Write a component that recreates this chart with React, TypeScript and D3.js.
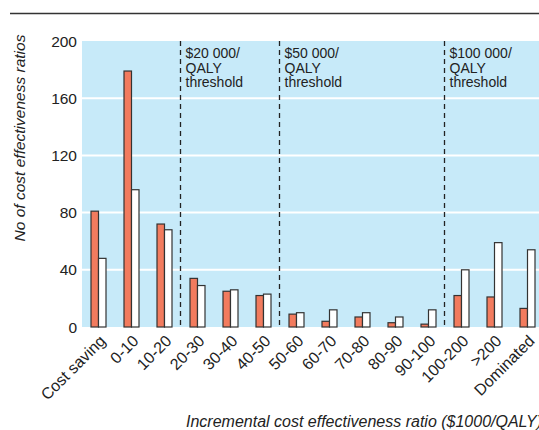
import React, { useRef, useEffect } from 'react'
import * as d3 from 'd3'

// categories along the x axis
const categories = [
  'Cost saving', '0-10', '10-20', '20-30', '30-40', '40-50', '50-60',
  '60-70', '70-80', '80-90', '90-100', '100-200', '>200', 'Dominated',
]
// two series
const redValues = [81, 179, 72, 34, 25, 22, 9, 4, 7, 3, 2, 22, 21, 13]
const whiteValues = [48, 96, 68, 29, 26, 23, 10, 12, 10, 7, 12, 40, 59, 54]
const yTicks = [0, 40, 80, 120, 160, 200]
// threshold lines sit between these categories (index of the category after the line)
const thresholdAt = [3, 6, 11]
const thresholdLabels = [
  ['$20 000/', 'QALY', 'threshold'],
  ['$50 000/', 'QALY', 'threshold'],
  ['$100 000/', 'QALY', 'threshold'],
]

const W = 539
const H = 430
const FONT = '"Liberation Sans", Arial, Helvetica, sans-serif'

function Chart() {
  const svgRef = useRef(null)

  useEffect(() => {
    const svg = d3.select(svgRef.current)
    svg.selectAll('*').remove()

    const m = { left: 82, top: 41, bottom: 327 }
    const bandW = 33
    const x = d3
      .scaleBand()
      .domain(categories)
      .range([m.left, m.left + bandW * categories.length])
    const y = d3.scaleLinear().domain([0, 200]).range([m.bottom, m.top])

    //top rule
    svg
      .append('line')
      .attr('x1', 10)
      .attr('x2', W)
      .attr('y1', 13.5)
      .attr('y2', 13.5)
      .attr('stroke', '#333')
      .attr('stroke-width', 1.5)

    //plot background
    svg
      .append('rect')
      .attr('x', m.left)
      .attr('y', m.top)
      .attr('width', W - m.left)
      .attr('height', m.bottom - m.top)
      .attr('fill', '#c7eaf9')

    //gridlines
    svg
      .append('g')
      .selectAll('line')
      .data(yTicks.filter((t) => t > 0 && t < 200))
      .join('line')
      .attr('x1', m.left)
      .attr('x2', W)
      .attr('y1', (d) => y(d))
      .attr('y2', (d) => y(d))
      .attr('stroke', '#fff')
      .attr('stroke-width', 2)

    //y tick labels
    svg
      .append('g')
      .selectAll('text')
      .data(yTicks)
      .join('text')
      .attr('x', 77)
      .attr('y', (d) => y(d) + 5.5)
      .attr('text-anchor', 'end')
      .style('font-family', FONT)
      .style('font-size', '15.5px')
      .attr('fill', '#222')
      .text((d) => d)

    //threshold lines + labels
    thresholdAt.forEach((idx, i) => {
      const xl = Math.round(x(categories[idx])!) - 1 + 0.5
      svg
        .append('line')
        .attr('x1', xl)
        .attr('x2', xl)
        .attr('y1', m.top)
        .attr('y2', m.bottom)
        .attr('stroke', '#222')
        .attr('stroke-width', 1.3)
        .attr('stroke-dasharray', '5,4')
      const t = svg
        .append('text')
        .attr('x', xl + 5)
        .attr('y', 58)
        .style('font-family', FONT)
        .style('font-size', '14px')
        .attr('fill', '#222')
      thresholdLabels[i].forEach((s, j) => {
        t.append('tspan')
          .attr('x', xl + 5)
          .attr('dy', j === 0 ? 0 : 14.5)
          .text(s)
      })
    })

    //bars
    const bw = 7.5
    const g = svg.append('g')
    categories.forEach((c, i) => {
      const cx = x(c)! + bandW / 2
      g.append('rect')
        .attr('x', cx - bw)
        .attr('y', y(redValues[i]))
        .attr('width', bw)
        .attr('height', y(0) - y(redValues[i]))
        .attr('fill', '#f27b5e')
        .attr('stroke', '#333')
        .attr('stroke-width', 1.2)
      g.append('rect')
        .attr('x', cx)
        .attr('y', y(whiteValues[i]))
        .attr('width', bw)
        .attr('height', y(0) - y(whiteValues[i]))
        .attr('fill', '#fff')
        .attr('stroke', '#333')
        .attr('stroke-width', 1.2)
    })

    //x tick labels
    svg
      .append('g')
      .selectAll('text')
      .data(categories)
      .join('text')
      .attr(
        'transform',
        (d) => `translate(${x(d)! + bandW / 2 + 8},${m.bottom + 15}) rotate(-45)`
      )
      .attr('text-anchor', 'end')
      .style('font-family', FONT)
      .style('font-size', '16px')
      .attr('fill', '#222')
      .text((d) => d)

    //axis titles
    svg
      .append('text')
      .attr('transform', `translate(25,138) rotate(-90)`)
      .attr('text-anchor', 'middle')
      .style('font-family', FONT)
      .style('font-size', '15.5px')
      .style('font-style', 'italic')
      .attr('fill', '#222')
      .text('No of cost effectiveness ratios')

    svg
      .append('text')
      .attr('x', 186)
      .attr('y', 427)
      .style('font-family', FONT)
      .style('font-size', '16px')
      .style('font-style', 'italic')
      .attr('fill', '#222')
      .text('Incremental cost effectiveness ratio ($1000/QALY)')
  }, [])

  return (
    <svg
      ref={svgRef}
      width={W}
      height={H}
      style={{ position: 'absolute', left: 0, top: 0, background: '#fff' }}
    />
  )
}

export default function App() {
  return <Chart />
}
